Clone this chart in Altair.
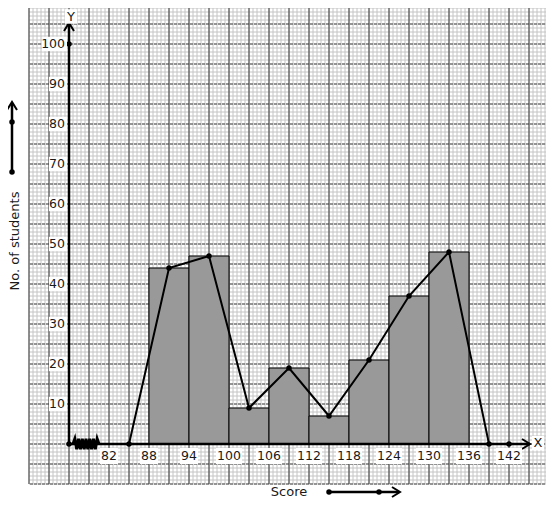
import altair as alt
import numpy as np
import pandas as pd

# ---------------- data ----------------
bin_start = [88, 94, 100, 106, 112, 118, 124, 130]
bin_end = [94, 100, 106, 112, 118, 124, 130, 136]
students = [44, 47, 9, 19, 7, 21, 37, 48]
mid_score = [85, 91, 97, 103, 109, 115, 121, 127, 133, 139]
mid_students = [0, 44, 47, 9, 19, 7, 21, 37, 48, 0]
x_ticks = [82, 88, 94, 100, 106, 112, 118, 124, 130, 136, 142]
y_ticks = [10, 20, 30, 40, 50, 60, 70, 80, 90, 100]
x_title = "Score"
y_title = "No. of students"

# ---------------- layout ----------------
W, H = 520, 480
X0, X1 = 70, 148
Y0, Y1 = -10, 110
OX = 76           # where the y axis sits (after the break)
ux = (X1 - X0) / W  # data units per pixel
uy = (Y1 - Y0) / H
FONT = "DejaVu Sans"
TXT = "#1a1a1a"

xs = alt.Scale(domain=[X0, X1], nice=False, zero=False)
ys = alt.Scale(domain=[Y0, Y1], nice=False, zero=False)


def X(f):
    return alt.X(f, type="quantitative", scale=xs, axis=None)


def Y(f):
    return alt.Y(f, type="quantitative", scale=ys, axis=None)


def py(page_y):
    # page pixel row -> data y
    return Y1 - (page_y - 4) * uy


def px(page_x):
    # page pixel column -> data x
    return X0 + (page_x - 29) * ux


CHEV = "M -1.6 -1 L 0 0 L -1.6 1"

# grid
minor_v = alt.Chart(pd.DataFrame({"x": np.linspace(X0, X1, 131)})).mark_rule(
    color="#c4c4c4", strokeWidth=1).encode(x=X("x"))
minor_h = alt.Chart(pd.DataFrame({"y": list(range(Y0, Y1 + 1))})).mark_rule(
    color="#c4c4c4", strokeWidth=1).encode(y=Y("y"))
major_h = alt.Chart(pd.DataFrame({"y": list(range(Y0, Y1 + 1, 5))})).mark_rule(
    color="#4a4a4a", strokeWidth=1, strokeDash=[3, 1]).encode(y=Y("y"))
major_v = alt.Chart(pd.DataFrame({"x": list(range(X0, X1 + 1, 3))})).mark_rule(
    color="#3a3a3a", strokeWidth=1).encode(x=X("x"))

# histogram bars
bars_df = pd.DataFrame({"lo": bin_start, "hi": bin_end, "n": students, "base": 0})
bars = alt.Chart(bars_df).mark_rect(fill="#999999", stroke="black", strokeWidth=1).encode(
    x=X("lo"), x2="hi", y=Y("base"), y2="n")

# axes
x_tip = px(530)
y_tip = py(23)
axis_df = pd.DataFrame({"x": [OX, OX], "x2": [x_tip, OX], "y": [0, 0], "y2": [0, y_tip]})
axes = alt.Chart(axis_df).mark_rule(color="black", strokeWidth=2.5).encode(
    x=X("x"), x2="x2", y=Y("y"), y2="y2")

# zigzag break on x axis
nz = 14
zz_x = np.linspace(px(73), px(99), nz + 1)
zz_y = [(1.3 if i % 2 else -1.3) if 0 < i < nz else 0 for i in range(nz + 1)]
zig = alt.Chart(pd.DataFrame({"x": zz_x, "y": zz_y, "i": range(nz + 1)})).mark_line(
    color="black", strokeWidth=3).encode(x=X("x"), y=Y("y"), order="i:Q")

# frequency polygon
poly_df = pd.DataFrame({"x": mid_score, "y": mid_students, "i": range(len(mid_score))})
poly = alt.Chart(poly_df).mark_line(color="black", strokeWidth=2).encode(
    x=X("x"), y=Y("y"), order="i:Q")
poly_pts = alt.Chart(poly_df).mark_circle(color="black", size=30, opacity=1).encode(
    x=X("x"), y=Y("y"))

# extra dots on axes
extra_df = pd.DataFrame({"x": [OX, 142, OX], "y": [0, 0, 100]})
extra_pts = alt.Chart(extra_df).mark_circle(color="black", size=30, opacity=1).encode(
    x=X("x"), y=Y("y"))

# arrowheads (axes + title arrows)
ya_x = px(12)
sa_y = py(492)
arrow_df = pd.DataFrame({
    "x": [x_tip, OX, ya_x, px(400)],
    "y": [0, y_tip, py(102), sa_y],
    "a": [0, 270, 270, 0],
})
arrows = alt.Chart(arrow_df).mark_point(
    shape=CHEV, size=100, filled=False, color="black", strokeWidth=2, opacity=1
).encode(x=X("x"), y=Y("y"), angle=alt.Angle("a:Q", scale=None))

# title arrows shafts and dots
shaft_df = pd.DataFrame({
    "x": [ya_x, px(329)],
    "x2": [ya_x, px(399)],
    "y": [py(172), sa_y],
    "y2": [py(103), sa_y],
})
shafts = alt.Chart(shaft_df).mark_rule(color="black", strokeWidth=2.5).encode(
    x=X("x"), x2="x2", y=Y("y"), y2="y2")
tdots_df = pd.DataFrame({
    "x": [ya_x, ya_x, px(329), px(379)],
    "y": [py(172), py(122), sa_y, sa_y],
})
tdots = alt.Chart(tdots_df).mark_circle(color="black", size=30, opacity=1).encode(
    x=X("x"), y=Y("y"))

# x tick labels with white boxes
xl_df = pd.DataFrame({"v": x_ticks, "t": [str(v) for v in x_ticks]})
xl_df["hw"] = [(13 if v >= 100 else 9) * ux for v in x_ticks]
xl_df["l"] = xl_df["v"] - xl_df["hw"]
xl_df["r"] = xl_df["v"] + xl_df["hw"]
xl_df["b"] = -1.0
xl_df["b2"] = -5.0
xl_df["ty"] = -3.1
xl_bg = alt.Chart(xl_df).mark_rect(fill="white").encode(
    x=X("l"), x2="r", y=Y("b"), y2="b2")
xl_txt = alt.Chart(xl_df).mark_text(
    fontSize=12.5, font=FONT, color=TXT, align="center", baseline="middle").encode(
    x=X("v"), y=Y("ty"), text="t:N")

# y tick labels with white boxes
yl_df = pd.DataFrame({"v": y_ticks, "t": [str(v) for v in y_ticks]})
yl_df["tx"] = OX - 4 * ux
yl_df["l"] = [OX - (27 if v >= 100 else 20) * ux for v in y_ticks]
yl_df["r"] = OX - 2 * ux
yl_df["b"] = yl_df["v"] - 1.8
yl_df["b2"] = yl_df["v"] + 1.8
yl_bg = alt.Chart(yl_df).mark_rect(fill="white").encode(
    x=X("l"), x2="r", y=Y("b"), y2="b2")
yl_txt = alt.Chart(yl_df).mark_text(
    fontSize=12.5, font=FONT, color=TXT, align="right", baseline="middle").encode(
    x=X("tx"), y=Y("v"), text="t:N")

# axis letters X and Y
let_df = pd.DataFrame({
    "t": ["X", "Y"],
    "x": [px(538), px(71)],
    "y": [0.2, py(16.5)],
})
let_df["l"] = let_df["x"] - 6 * ux
let_df["r"] = let_df["x"] + 6 * ux
let_df["b"] = let_df["y"] - 1.8
let_df["b2"] = let_df["y"] + 1.8
let_bg = alt.Chart(let_df).mark_rect(fill="white").encode(
    x=X("l"), x2="r", y=Y("b"), y2="b2")
let_txt = alt.Chart(let_df).mark_text(
    fontSize=13, font=FONT, color=TXT, align="center", baseline="middle").encode(
    x=X("x"), y=Y("y"), text="t:N")

# titles
ttl_df = pd.DataFrame({
    "t": [x_title, y_title],
    "x": [px(289), px(15)],
    "y": [sa_y, py(241)],
    "a": [0, 270],
})
ttl = alt.Chart(ttl_df).mark_text(
    fontSize=13, font=FONT, color=TXT, align="center", baseline="middle").encode(
    x=X("x"), y=Y("y"), text="t:N", angle=alt.Angle("a:Q", scale=None))

chart = alt.layer(
    minor_v, minor_h, major_h, major_v, bars, axes, zig, poly, poly_pts,
    extra_pts, arrows, shafts, tdots, xl_bg, xl_txt, yl_bg, yl_txt,
    let_bg, let_txt, ttl,
).properties(
    width=W, height=H,
    autosize=alt.AutoSizeParams(type="none"),
    padding={"left": 21, "top": -4, "right": -3, "bottom": 14},
    background="white",
).configure_view(strokeWidth=0)

chart.save("out.html", embed_options={"renderer": "svg", "actions": False})
